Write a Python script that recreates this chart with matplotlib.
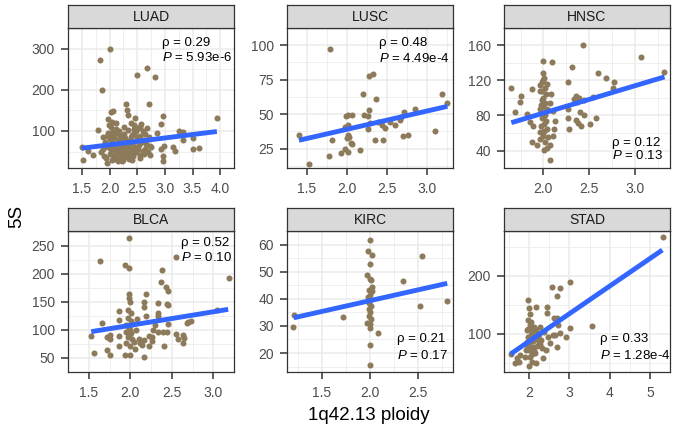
import matplotlib
matplotlib.use("Agg")
import matplotlib.pyplot as plt
import numpy as np

plt.rcParams["font.family"] = ["Liberation Sans", "DejaVu Sans"]
plt.rcParams["mathtext.fontset"] = "custom"
plt.rcParams["mathtext.it"] = "Liberation Sans:italic"
plt.rcParams["mathtext.rm"] = "Liberation Sans"

# ---- data ----
panels = ["LUAD", "LUSC", "HNSC", "BLCA", "KIRC", "STAD"]

luad_x = [1.50, 1.52, 1.62, 1.71, 1.80, 1.83, 1.86, 2.00, 1.88, 1.94, 1.96, 1.98, 2.02, 2.06,
          1.99, 2.04, 1.98, 2.07, 2.12, 2.15, 2.10, 2.02, 2.07, 2.12, 2.18, 2.23, 2.20, 2.26,
          2.30, 2.31, 2.34, 2.28, 2.34, 2.36, 2.39, 2.41, 2.44, 2.46, 2.47, 2.49, 2.52, 2.55,
          2.50, 2.57, 2.60, 2.63, 2.65, 2.68, 2.71, 2.68, 2.71, 2.73, 2.73, 2.83, 2.86, 2.93,
          2.97, 2.93, 2.99, 2.96, 2.96, 3.14, 3.19, 3.25, 3.32, 3.33, 3.50, 3.51, 3.62, 3.94,
          1.92, 1.95, 1.97, 2.00, 2.00, 2.01, 2.03, 2.05, 2.05, 2.08, 2.09, 2.10, 2.11, 2.13,
          2.14, 2.16, 2.17, 2.19, 2.20, 2.21, 2.22, 2.24, 2.25, 2.25, 2.27, 2.28, 2.30, 2.31,
          2.32, 2.33, 2.35, 2.36, 2.38, 2.40, 2.40, 2.42, 2.43, 2.45, 2.46, 2.48, 2.50, 2.51,
          2.53, 2.55, 2.56, 2.58, 2.60, 2.62, 2.64, 2.66, 2.70, 2.72, 2.75, 1.85, 1.88, 1.90,
          2.02, 2.06, 2.12, 2.18, 2.26, 2.38, 2.44, 2.55, 2.08, 2.15, 2.22, 2.29, 2.35, 2.41]
luad_y = [62, 29, 51, 41, 103, 273, 199, 300, 57, 35, 21, 130, 147, 149,
          114, 122, 96, 100, 104, 78, 64, 53, 42, 35, 46, 35, 57, 71,
          166, 152, 138, 82, 57, 39, 71, 89, 114, 132, 100, 86, 57, 42,
          237, 118, 100, 78, 57, 253, 165, 107, 86, 64, 42, 232, 96, 117,
          136, 57, 64, 39, 26, 60, 52, 100, 97, 78, 82, 57, 59, 131,
          72, 88, 60, 45, 80, 66, 92, 30, 75, 55, 85, 40, 95, 62,
          50, 28, 70, 88, 44, 60, 80, 52, 30, 68, 92, 45, 58, 75,
          36, 102, 65, 48, 85, 55, 30, 72, 40, 95, 62, 50, 78, 108,
          66, 88, 35, 72, 52, 45, 92, 68, 50, 80, 60, 50, 85, 40,
          110, 100, 120, 100, 110, 120, 105, 110, 33, 38, 26, 40, 32, 46]

lusc_x = [1.40, 1.53, 1.79, 1.78, 1.82, 1.93, 1.98, 1.99, 2.02, 1.98, 2.02, 2.01, 2.03, 2.00,
          2.05, 2.07, 2.01, 2.07, 2.16, 2.20, 2.22, 2.27, 2.28, 2.28, 2.33, 2.27, 2.29, 2.35,
          2.37, 2.39, 2.45, 2.44, 2.48, 2.54, 2.60, 2.66, 2.68, 2.72, 2.70, 2.77, 2.85, 3.10,
          3.19, 3.26]
lusc_y = [34.7, 14.2, 97.4, 19.6, 31.1, 22.2, 25.0, 48.8, 49.2, 40.8, 42.3, 34.8, 33.7, 32.6,
          29.4, 28.3, 22.9, 49.2, 24.4, 65.0, 49.2, 48.8, 52.7, 78.0, 79.0, 39.1, 43.4, 31.1,
          60.7, 44.0, 31.1, 41.9, 39.7, 44.0, 42.3, 45.6, 47.7, 51.4, 34.1, 34.8, 53.6, 37.6,
          64.6, 58.1]

hnsc_x = [1.65, 1.69, 1.74, 1.76, 1.82, 1.85, 1.89, 1.87, 1.88, 1.93, 1.96, 1.99, 2.09, 2.04,
          2.07, 1.98, 2.01, 1.96, 2.02, 1.98, 2.02, 1.96, 2.01, 1.98, 2.03, 1.97, 2.04, 2.00,
          2.05, 1.96, 2.02, 2.08, 2.07, 2.10, 2.13, 2.11, 2.10, 2.07, 2.01, 2.03, 1.96, 1.99,
          2.04, 1.99, 2.04, 1.97, 2.27, 2.31, 2.27, 2.27, 2.28, 2.33, 2.35, 2.37, 2.39, 2.40,
          2.36, 2.38, 2.41, 2.44, 2.43, 2.44, 2.51, 2.57, 2.54, 2.59, 2.68, 2.77, 2.76, 3.06,
          3.32, 2.00, 1.99, 2.01, 2.00, 2.02, 1.98, 2.00, 2.01]
hnsc_y = [111.8, 84.4, 95.7, 102.5, 82.0, 72.8, 68.3, 110.4, 50.2, 46.1, 61.5, 142.6, 140.8, 43.4,
          29.0, 118.0, 123.0, 107.7, 111.0, 97.4, 94.0, 87.0, 82.0, 77.0, 73.5, 68.4, 65.0, 56.4,
          55.7, 53.0, 49.5, 104.0, 94.0, 85.4, 73.5, 65.0, 56.4, 46.1, 41.0, 104.0, 114.5, 128.2,
          116.0, 78.6, 87.2, 92.3, 118.0, 135.7, 77.0, 87.2, 64.0, 99.0, 102.5, 95.7, 100.0, 83.7,
          75.2, 71.8, 68.3, 80.3, 160.7, 97.4, 70.8, 77.0, 100.8, 128.2, 123.0, 118.0, 111.1, 146.3,
          129.9, 90.0, 100.0, 70.0, 60.0, 80.0, 108.0, 120.0, 62.0]

blca_x = [1.53, 1.56, 1.63, 1.66, 1.72, 1.72, 1.75, 1.76, 1.75, 1.87, 1.87, 1.87, 1.87, 1.94,
          1.94, 1.99, 1.99, 1.98, 1.99, 2.00, 1.97, 2.01, 1.97, 2.01, 1.95, 1.99, 1.95, 2.01,
          1.97, 2.02, 1.95, 2.00, 2.00, 2.06, 2.08, 2.07, 2.10, 2.14, 2.17, 2.17, 2.17, 2.17,
          2.19, 2.19, 2.22, 2.26, 2.26, 2.23, 2.28, 2.30, 2.34, 2.34, 2.34, 2.34, 2.37, 2.38,
          2.39, 2.41, 2.43, 2.45, 2.44, 2.46, 2.45, 2.44, 2.55, 2.55, 2.57, 2.63, 2.65, 2.63,
          2.68, 2.70, 2.73, 3.05, 3.19, 2.00, 1.98, 2.02, 2.04, 2.12]
blca_y = [89.7, 59.4, 221.9, 111.7, 63.8, 87.5, 55.5, 91.3, 83.0, 134.3, 89.7, 71.0, 117.2, 215.3,
          55.5, 263.8, 209.8, 164.6, 157.4, 149.2, 135.4, 129.9, 121.6, 116.1, 107.8, 104.0, 96.8, 94.1,
          87.5, 83.0, 77.5, 72.0, 55.5, 66.5, 118.8, 99.6, 83.0, 73.1, 81.4, 140.9, 149.2, 51.6,
          164.6, 124.4, 89.7, 86.9, 80.3, 72.0, 99.6, 107.8, 148.1, 129.9, 125.5, 96.8, 185.0, 207.0,
          96.8, 71.0, 176.7, 168.4, 146.4, 144.8, 110.6, 96.8, 230.2, 93.0, 83.0, 91.3, 85.8, 75.9,
          111.7, 114.5, 115.6, 135.4, 193.2, 100.0, 90.0, 110.0, 78.0, 76.0]

kirc_x = [1.21, 1.20, 1.72, 2.00, 1.98, 2.02, 2.00, 1.97, 2.00, 2.01, 2.02, 1.99, 2.02, 2.00,
          1.98, 2.00, 1.99, 2.01, 1.99, 2.00, 1.99, 2.01, 1.97, 2.00, 2.00, 2.08, 2.00, 2.00,
          2.34, 2.54, 2.52, 2.80]
kirc_y = [34.2, 29.6, 33.3, 61.8, 57.5, 56.3, 53.0, 48.8, 47.3, 46.9, 44.2, 43.3, 42.7, 41.5,
          40.5, 39.7, 38.5, 37.3, 36.1, 35.2, 33.6, 32.7, 31.2, 30.6, 29.4, 27.2, 23.1, 15.5,
          46.6, 55.8, 37.3, 39.3]

stad_x = [1.56, 1.65, 1.70, 1.74, 1.77, 1.89, 1.92, 1.95, 1.98, 2.00, 2.02, 1.98, 2.03, 1.95,
          2.06, 1.98, 2.08, 1.95, 2.10, 2.00, 2.14, 2.02, 2.06, 2.00, 2.18, 2.18, 2.22, 2.25,
          2.16, 2.26, 2.33, 2.35, 2.45, 2.45, 2.47, 2.43, 2.51, 2.58, 2.62, 2.59, 2.68, 2.68,
          2.72, 2.65, 2.69, 2.77, 2.76, 2.92, 3.02, 3.02, 3.57, 5.33, 2.01, 2.04, 2.09, 2.12,
          2.15, 2.20, 2.05, 2.11, 1.99, 2.07, 2.13, 2.24, 2.30, 1.97, 2.03, 2.17, 2.28, 2.38]
stad_y = [65.7, 49.7, 58.3, 52.6, 64.0, 61.1, 72.6, 86.9, 158.3, 144.0, 134.3, 124.0, 115.4, 106.9,
          101.1, 95.4, 90.9, 81.1, 78.3, 72.6, 66.9, 61.1, 52.6, 45.1, 145.7, 106.9, 95.4, 86.9,
          50.9, 112.6, 75.4, 58.3, 145.7, 136.6, 95.4, 72.6, 84.0, 180.0, 126.9, 98.3, 165.1, 126.9,
          115.4, 98.3, 78.3, 178.3, 101.1, 95.4, 189.7, 109.7, 114.3, 265.7, 110.0, 98.0, 88.0, 104.0,
          92.0, 80.0, 120.0, 70.0, 84.0, 66.0, 112.0, 100.0, 90.0, 108.0, 76.0, 96.0, 82.0, 104.0]

# fitted lm lines (endpoints)
fit_x = [(1.50, 3.94), (1.40, 3.26), (1.65, 3.32), (1.53, 3.18), (1.21, 2.80), (1.54, 5.31)]
fit_y = [(58.0, 98.6), (31.1, 55.7), (71.8, 124.1), (96.8, 136.5), (33.0, 45.7), (65.7, 244.0)]

rho_text = ["0.29", "0.48", "0.12", "0.52", "0.21", "0.33"]
p_text = ["5.93e-6", "4.49e-4", "0.13", "0.10", "0.17", "1.28e-4"]

x_ticks = [[1.5, 2.0, 2.5, 3.0, 3.5, 4.0], [1.5, 2.0, 2.5, 3.0], [2.0, 2.5, 3.0],
           [1.5, 2.0, 2.5, 3.0], [1.5, 2.0, 2.5], [2, 3, 4, 5]]
y_ticks = [[100, 200, 300], [25, 50, 75, 100], [40, 80, 120, 160],
           [50, 100, 150, 200, 250], [20, 30, 40, 50, 60], [100, 200]]

xs = [luad_x, lusc_x, hnsc_x, blca_x, kirc_x, stad_x]
ys = [luad_y, lusc_y, hnsc_y, blca_y, kirc_y, stad_y]

# ---- layout (pixels of a 675x430 canvas) ----
W, H = 675, 430
col_left = [68, 287, 504]
panel_w = 166
row_top = [28, 231]
panel_h = [140, 141]
strip_h = 23
xlims = [(1.37, 4.03), (1.32, 3.33), (1.57, 3.38), (1.44, 3.24), (1.14, 2.86), (1.375, 5.48)]
ylims = [(10, 314), (11, 102), (24, 168), (41, 276), (13, 64.1), (34.8, 276.6)]
# annotation anchor (axes fraction) for the rho line / P line
ann_x = [0.564, 0.552, 0.651, 0.679, 0.66, 0.578]
ann_y = [(0.893, 0.786), (0.893, 0.779), (0.179, 0.086), (0.915, 0.81), (0.232, 0.12), (0.232, 0.12)]

point_col = "#8C7A5B"
line_col = "#3366FF"
grid_col = "#EBEBEB"
frame_col = "#333333"

fig = plt.figure(figsize=(W / 100, H / 100), dpi=100)

for i, name in enumerate(panels):
    r, c = divmod(i, 3)
    left = col_left[c] / W
    bottom = 1 - (row_top[r] + panel_h[r]) / H
    ax = fig.add_axes([left, bottom, panel_w / W, panel_h[r] / H])

    ax.scatter(xs[i], ys[i], s=19, color=point_col, linewidths=0, zorder=3)
    ax.plot(fit_x[i], fit_y[i], color=line_col, lw=3.5, solid_capstyle="butt", zorder=4)

    ax.set_xlim(xlims[i])
    ax.set_ylim(ylims[i])
    xt, yt = x_ticks[i], y_ticks[i]
    ax.set_xticks(xt)
    ax.set_yticks(yt)
    ax.set_xticklabels([f"{v:.1f}" if isinstance(v, float) else str(v) for v in xt])
    ax.set_yticklabels([str(v) for v in yt])
    dx = (xt[1] - xt[0]) / 2
    dy = (yt[1] - yt[0]) / 2
    ax.set_xticks(np.arange(xt[0] - dx, xt[-1] + 2 * dx, 2 * dx), minor=True)
    ax.set_yticks(np.arange(yt[0] - dy, yt[-1] + 2 * dy, 2 * dy), minor=True)
    ax.grid(True, which="major", color=grid_col, lw=1.1, zorder=0)
    ax.grid(True, which="minor", color=grid_col, lw=0.55, zorder=0)
    ax.set_axisbelow(True)
    ax.tick_params(which="major", length=5, width=1.1, color=frame_col,
                   labelsize=10, labelcolor="#4D4D4D")
    ax.tick_params(axis="x", which="major", pad=5)
    ax.tick_params(axis="y", which="major", pad=4.3)
    ax.tick_params(which="minor", length=0)
    for sp in ax.spines.values():
        sp.set_color(frame_col)
        sp.set_linewidth(0.9)

    ax.text(ann_x[i], ann_y[i][0], "ρ = " + rho_text[i], transform=ax.transAxes,
            ha="left", va="center", fontsize=9.5, color="black", zorder=5)
    ax.text(ann_x[i], ann_y[i][1], "$P$ = " + p_text[i], transform=ax.transAxes,
            ha="left", va="center", fontsize=9.5, color="black", zorder=5)

    # facet strip
    sax = fig.add_axes([left, 1 - row_top[r] / H, panel_w / W, strip_h / H])
    sax.set_facecolor("#D9D9D9")
    sax.set_xticks([])
    sax.set_yticks([])
    for sp in sax.spines.values():
        sp.set_color(frame_col)
        sp.set_linewidth(0.9)
    sax.text(0.5, 0.48, name, ha="center", va="center", fontsize=10, color="#1A1A1A",
             transform=sax.transAxes)

fig.text(17 / W, 1 - 216 / H, "5S", rotation=90, ha="center", va="center", fontsize=13.5)
fig.text(369 / W, 1 - 415 / H, "1q42.13 ploidy", ha="center", va="center", fontsize=13.5)

fig.savefig("out.png", dpi=100)
